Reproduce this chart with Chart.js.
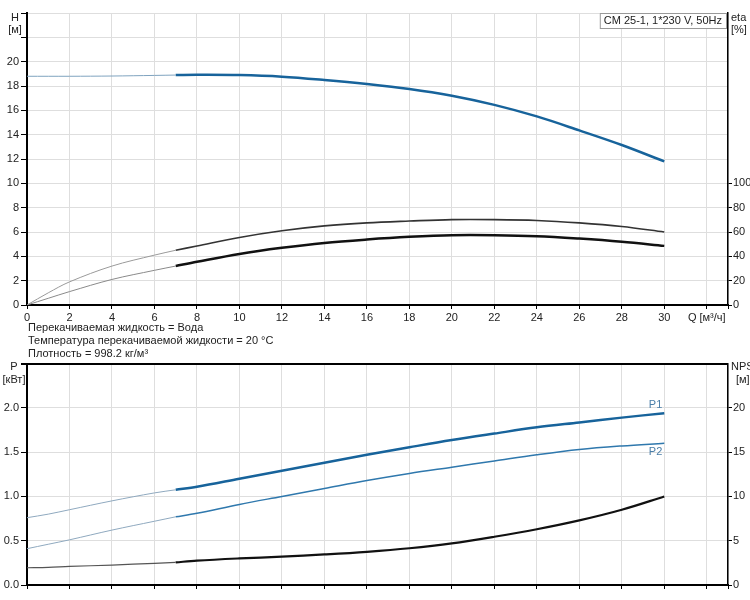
<!DOCTYPE html>
<html>
<head>
<meta charset="utf-8">
<script src="https://cdn.jsdelivr.net/npm/chart.js@4.4.1/dist/chart.umd.min.js"></script>
<style>
  body { margin: 0; background: #fff; width: 750px; height: 600px; overflow: hidden; position: relative; font-family: "Liberation Sans", Arial, sans-serif; }
  canvas { position: absolute; left: 0; }
  #top { top: 0; }
  #bottom { top: 355px; }
  .info { position: absolute; left: 28px; top: 321px; font-size: 11px; line-height: 13px; color: #222; z-index: 2; }
</style>
</head>
<body>
<canvas id="top" width="750" height="330"></canvas>
<canvas id="bottom" width="750" height="245"></canvas>
<div class="info">
  Перекачиваемая жидкость = Вода<br>
  Температура перекачиваемой жидкости = 20 °C<br>
  Плотность = 998.2 кг/м³
</div>
<script>
// расход Q [м³/ч]
const q      = [0, 1, 2, 4, 6, 7, 8, 10, 12, 14, 16, 18, 20, 22, 24, 26, 28, 30];
// напор H [м]
const head   = [18.8, 18.8, 18.8, 18.82, 18.87, 18.9, 18.92, 18.9, 18.77, 18.5, 18.17, 17.76, 17.2, 16.45, 15.5, 14.35, 13.15, 11.8];
// КПД [%]
const etaTop = [0, 10, 19, 32, 41, 45, 48.5, 55.5, 61, 65, 67.5, 69, 70.2, 70.2, 69.5, 67.5, 64.5, 60];
const etaLow = [0, 5.5, 11, 21, 28.5, 32, 35.5, 42, 47, 51, 53.8, 56, 57.4, 57.4, 56.6, 54.6, 52, 48.6];
// мощность [кВт]
const p1     = [0.76, 0.8, 0.85, 0.95, 1.04, 1.075, 1.11, 1.2, 1.29, 1.38, 1.47, 1.555, 1.637, 1.71, 1.78, 1.835, 1.89, 1.94];
const p2     = [0.41, 0.46, 0.51, 0.62, 0.72, 0.77, 0.81, 0.91, 1.0, 1.09, 1.18, 1.26, 1.33, 1.40, 1.47, 1.53, 1.57, 1.60];
// NPSH [м]
const npsh   = [1.95, 2.0, 2.1, 2.25, 2.45, 2.55, 2.75, 3.0, 3.2, 3.45, 3.75, 4.15, 4.7, 5.45, 6.3, 7.3, 8.5, 10.0];

const qTicks = [0, 2, 4, 6, 8, 10, 12, 14, 16, 18, 20, 22, 24, 26, 28, 30];
const hTicks = [0, 2, 4, 6, 8, 10, 12, 14, 16, 18, 20];
const etaTicks = [0, 20, 40, 60, 80, 100];
const pTicks = [0, 0.5, 1.0, 1.5, 2.0];
const npshTicks = [0, 5, 10, 15, 20];

const QSPLIT = 7;
const seg = (vals, from, to) => q.map((x, i) => ({ x, y: vals[i] })).filter(p => p.x >= from && p.x <= to);

Chart.defaults.font.family = '"Liberation Sans", Arial, sans-serif';
Chart.defaults.font.size = 11;
Chart.defaults.color = '#222';

const GRID = '#dedede';

function line(data, color, width, axis) {
  return {
    data, borderColor: color, borderWidth: width, yAxisID: axis,
    pointRadius: 0, tension: 0.35, fill: false
  };
}

function textPlugin(draw) {
  return { id: 'txt', afterDraw(chart) { const c = chart.ctx; c.save(); draw(chart, c); c.restore(); } };
}

// ---------- верхний график: H и eta ----------
new Chart(document.getElementById('top'), {
  type: 'line',
  data: {
    datasets: [
      line(seg(head, 0, QSPLIT), '#7fa3bf', 1, 'y'),
      line(seg(head, QSPLIT, 30), '#17639b', 2.5, 'y'),
      line(seg(etaTop, 0, QSPLIT), '#9a9a9a', 1, 'y2'),
      line(seg(etaTop, QSPLIT, 30), '#333', 1.6, 'y2'),
      line(seg(etaLow, 0, QSPLIT), '#8a8a8a', 1, 'y2'),
      line(seg(etaLow, QSPLIT, 30), '#111', 2.5, 'y2')
    ]
  },
  options: {
    responsive: false, animation: false, devicePixelRatio: 1,
    layout: { padding: { top: 13, left: 0, right: 0, bottom: 0 } },
    plugins: { legend: { display: false }, tooltip: { enabled: false } },
    scales: {
      x: {
        type: 'linear', min: 0, max: 33,
        afterBuildTicks: s => { s.ticks = qTicks.concat([32, 33]).map(v => ({ value: v })); },
        afterFit: s => { s.height = 25; },
        border: { color: '#000', width: 2 },
        grid: { color: GRID, tickLength: 4, tickColor: '#000' },
        ticks: { padding: 2, maxRotation: 0, autoSkip: false,
          callback: v => v === 32 ? 'Q [м³/ч]' : (v > 30 ? '' : String(v)) }
      },
      y: {
        min: 0, max: 24,
        afterBuildTicks: s => { s.ticks = hTicks.concat([22, 24]).map(v => ({ value: v })); },
        afterFit: s => { s.width = 27; },
        border: { color: '#000', width: 2 },
        grid: { color: GRID, tickLength: 6, tickColor: '#000' },
        ticks: { padding: 2, callback: v => v > 20 ? '' : String(v) }
      },
      y2: {
        position: 'right', min: 0, max: 240,
        afterBuildTicks: s => { s.ticks = etaTicks.map(v => ({ value: v })); },
        afterFit: s => { s.width = 22; },
        border: { color: '#000', width: 1.5 },
        grid: { drawOnChartArea: false, tickLength: 4, tickColor: '#000' },
        ticks: { padding: 1, callback: v => String(v) }
      }
    }
  },
  plugins: [textPlugin((chart, c) => {
    c.fillStyle = '#222';
    c.font = '11px "Liberation Sans", Arial, sans-serif';
    c.textAlign = 'center';
    c.textBaseline = 'middle';
    c.fillText('H', 15, 18);
    c.fillText('[м]', 15, 30);
    c.textAlign = 'left';
    c.fillText('eta', 731, 18);
    c.fillText('[%]', 731, 30);
    // подпись модели
    const a = chart.chartArea;
    const label = 'CM 25-1, 1*230 V, 50Hz';
    const w = c.measureText(label).width + 8;
    c.fillStyle = '#fff';
    c.fillRect(a.right - 2 - w, a.top, w, 16);
    c.strokeStyle = '#999';
    c.lineWidth = 1;
    c.strokeRect(a.right - 2 - w + 0.5, a.top + 0.5, w, 15);
    c.fillStyle = '#222';
    c.fillText(label, a.right - 2 - w + 4, a.top + 8);
  })]
});

// ---------- нижний график: P и NPSH ----------
new Chart(document.getElementById('bottom'), {
  type: 'line',
  data: {
    datasets: [
      line(seg(p1, 0, QSPLIT), '#8fa9bf', 1, 'y'),
      line(seg(p1, QSPLIT, 30), '#17639b', 2.5, 'y'),
      line(seg(p2, 0, QSPLIT), '#8fa9bf', 1, 'y'),
      line(seg(p2, QSPLIT, 30), '#2f78ad', 1.5, 'y'),
      line(seg(npsh, 0, QSPLIT), '#555', 1.2, 'y2'),
      line(seg(npsh, QSPLIT, 30), '#111', 2.2, 'y2')
    ]
  },
  options: {
    responsive: false, animation: false, devicePixelRatio: 1,
    layout: { padding: { top: 8, left: 0, right: 0, bottom: 0 } },
    plugins: { legend: { display: false }, tooltip: { enabled: false } },
    scales: {
      x: {
        type: 'linear', min: 0, max: 33,
        afterBuildTicks: s => { s.ticks = qTicks.concat([32, 33]).map(v => ({ value: v })); },
        afterFit: s => { s.height = 15; },
        border: { color: '#000', width: 2 },
        grid: { color: GRID, tickLength: 4, tickColor: '#000' },
        ticks: { display: false }
      },
      y: {
        min: 0, max: 2.5,
        afterBuildTicks: s => { s.ticks = pTicks.concat([2.5]).map(v => ({ value: v })); },
        afterFit: s => { s.width = 27; },
        border: { color: '#000', width: 2 },
        grid: { color: c => c.tick && c.tick.value === 2.5 ? '#000' : GRID,
                lineWidth: c => c.tick && c.tick.value === 2.5 ? 2 : 1,
                tickLength: 6, tickColor: '#000' },
        ticks: { padding: 2, callback: v => v > 2 ? '' : v.toFixed(1) }
      },
      y2: {
        position: 'right', min: 0, max: 25,
        afterBuildTicks: s => { s.ticks = npshTicks.map(v => ({ value: v })); },
        afterFit: s => { s.width = 22; },
        border: { color: '#000', width: 1.5 },
        grid: { drawOnChartArea: false, tickLength: 4, tickColor: '#000' },
        ticks: { padding: 1, callback: v => String(v) }
      }
    }
  },
  plugins: [textPlugin((chart, c) => {
    c.fillStyle = '#222';
    c.font = '11px "Liberation Sans", Arial, sans-serif';
    c.textAlign = 'center';
    c.textBaseline = 'middle';
    c.fillText('P', 14, 12);
    c.fillText('[кВт]', 14, 25);
    c.textAlign = 'left';
    c.fillText('NPSH', 731, 12);
    c.fillText('[м]', 736, 25);
    // подписи кривых P1 / P2
    const xs = chart.scales.x, ys = chart.scales.y;
    const last = q.length - 1;
    c.fillStyle = '#4a7ea8';
    c.textAlign = 'right';
    c.fillText('P1', xs.getPixelForValue(q[last]) - 2, ys.getPixelForValue(p1[last]) - 8);
    c.fillText('P2', xs.getPixelForValue(q[last]) - 2, ys.getPixelForValue(p2[last]) + 9);
  })]
});
</script>
</body>
</html>
